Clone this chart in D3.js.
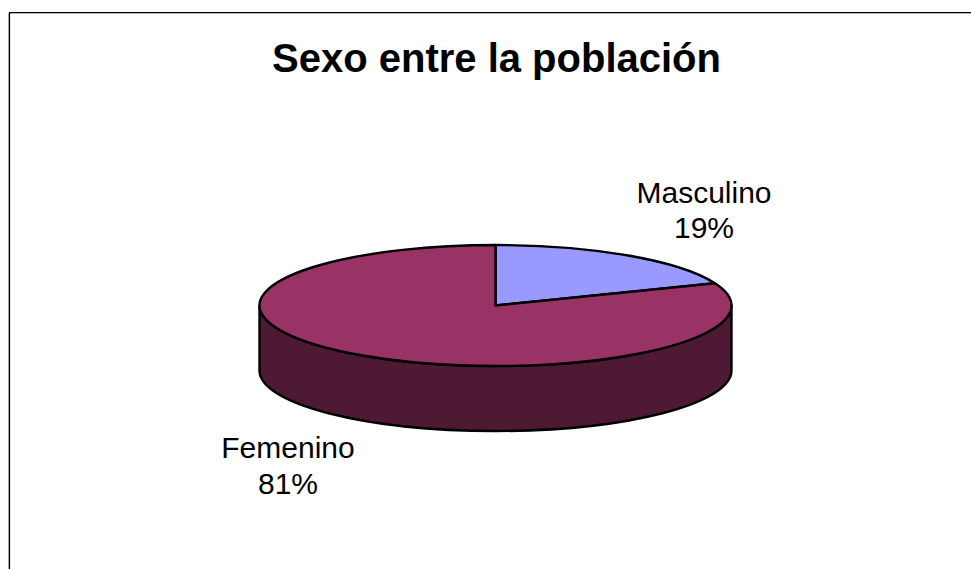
<!DOCTYPE html>
<html>
<head>
<meta charset="utf-8">
<script src="https://cdn.jsdelivr.net/npm/d3@7"></script>
<style>
  html, body { margin: 0; padding: 0; background: #fff; }
  text { font-family: "Liberation Sans", Arial, sans-serif; fill: #000; }
</style>
</head>
<body>
<svg id="chart" width="971" height="569"></svg>
<script>
const title = 'Sexo entre la población';
const categories = ['Masculino', 'Femenino'];
const values = [19, 81];
const topColors = ['#9999ff', '#993366'];
const sideColor = '#4d1933';

const svg = d3.select('#chart');

// chart frame, only top and left edges show in the picture
svg.append('path')
  .attr('d', 'M8.5,569V13.5H971')
  .attr('fill', 'none')
  .attr('stroke', '#b4b4b4')
  .attr('stroke-width', 1);
svg.append('path')
  .attr('d', 'M9.5,569V12.5H971')
  .attr('fill', 'none')
  .attr('stroke', '#000')
  .attr('stroke-width', 1.2);

svg.append('text')
  .attr('x', 496.5)
  .attr('y', 72)
  .attr('text-anchor', 'middle')
  .attr('font-size', 40)
  .attr('font-weight', 'bold')
  .text(title);

const cx = 495.5, cy = 305.5, rx = 236, ry = 60.5, depth = 65;

// side of the cylinder
svg.append('path')
  .attr('d', `M${cx - rx},${cy}V${cy + depth}A${rx},${ry} 0 0 0 ${cx + rx},${cy + depth}V${cy}A${rx},${ry} 0 0 1 ${cx - rx},${cy}Z`)
  .attr('fill', sideColor)
  .attr('stroke', '#000')
  .attr('stroke-width', 2.4)
  .attr('stroke-linejoin', 'round');

const pie = d3.pie().sort(null).value(d => d);
const arc = d3.arc().innerRadius(0).outerRadius(rx);

// top of the pie: a normal d3 pie squashed into an ellipse
svg.append('g')
  .attr('transform', `translate(${cx},${cy}) scale(1,${ry / rx})`)
  .selectAll('path')
  .data(pie(values))
  .enter()
  .append('path')
    .attr('d', arc)
    .attr('fill', (d, i) => topColors[i])
    .attr('stroke', '#000')
    .attr('stroke-width', 2.4)
    .attr('stroke-linejoin', 'round')
    .attr('vector-effect', 'non-scaling-stroke');

const labelPos = [[704, 203, 238], [288, 458, 494]];

categories.forEach((c, i) => {
  svg.append('text')
    .attr('x', labelPos[i][0])
    .attr('y', labelPos[i][1])
    .attr('text-anchor', 'middle')
    .attr('font-size', 30)
    .text(c);
  svg.append('text')
    .attr('x', labelPos[i][0])
    .attr('y', labelPos[i][2])
    .attr('text-anchor', 'middle')
    .attr('font-size', 30)
    .text(values[i] + '%');
});
</script>
</body>
</html>
